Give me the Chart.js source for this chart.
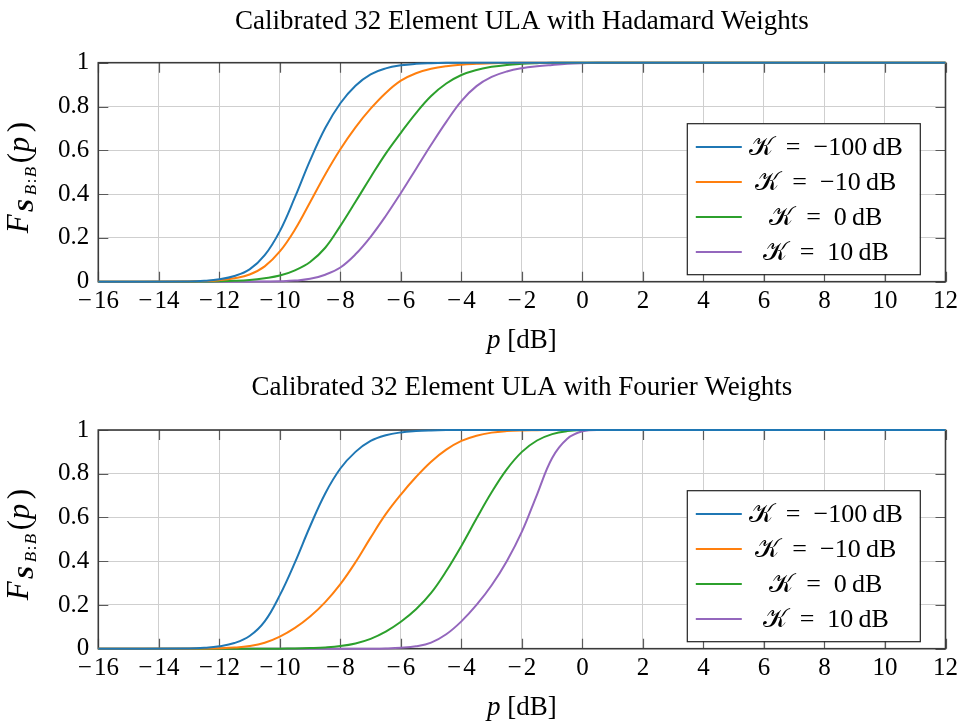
<!DOCTYPE html>
<html><head><meta charset="utf-8">
<script src="https://cdn.jsdelivr.net/npm/chart.js@4.4.0/dist/chart.umd.min.js"></script>
<style>
html,body{margin:0;padding:0;background:#fff;}
#wrap{position:relative;width:963px;height:726px;overflow:hidden;}
.box{position:absolute;left:0;width:963px;height:363px;}
</style></head><body>
<div id="wrap">
<div class="box" style="top:0"><canvas id="c1" width="963" height="363"></canvas></div>
<div class="box" style="top:363px"><canvas id="c2" width="963" height="363"></canvas></div>
</div>
<script>
// ---- data ----
const pGrid = [-16, -13, -12.5, -12, -11.5, -11, -10.5, -10, -9.5, -9, -8.5, -8, -7.5, -7, -6.5, -6, -5.5, -5, -4.5, -4, -3.5, -3, -2.5, -2, -1.5, -1, -0.5, 0, 0.5, 12];
const kLabels = ['𝒦\u2002=\u2002−100\u2009dB', '𝒦\u2002=\u2002−10\u2009dB', '𝒦\u2002=\u20020\u2009dB', '𝒦\u2002=\u200210\u2009dB'];
const xTicks = [-16, -14, -12, -10, -8, -6, -4, -2, 0, 2, 4, 6, 8, 10, 12];
const yTicks = [0, 0.2, 0.4, 0.6, 0.8, 1];
const titles = ['Calibrated 32 Element ULA with Hadamard Weights', 'Calibrated 32 Element ULA with Fourier Weights'];

// Hadamard weights
const hadK100m = [0, 0.001, 0.004, 0.011, 0.026, 0.056, 0.121, 0.231, 0.386, 0.554, 0.702, 0.815, 0.895, 0.947, 0.974, 0.988, 0.995, 0.998, 0.9995, 1, 1, 1, 1, 1, 1, 1, 1, 1, 1, 1];
const hadK10m  = [0, 0.001, 0.003, 0.007, 0.016, 0.033, 0.07, 0.138, 0.238, 0.363, 0.49, 0.605, 0.705, 0.79, 0.862, 0.918, 0.952, 0.972, 0.984, 0.991, 0.995, 0.998, 0.999, 1, 1, 1, 1, 1, 1, 1];
const hadK0    = [0, 0, 0.001, 0.002, 0.004, 0.008, 0.016, 0.028, 0.052, 0.09, 0.155, 0.255, 0.365, 0.477, 0.585, 0.68, 0.77, 0.848, 0.905, 0.944, 0.967, 0.981, 0.99, 0.995, 0.998, 1, 1, 1, 1, 1];
const hadK10   = [0, 0, 0, 0, 0, 0, 0.001, 0.002, 0.005, 0.013, 0.032, 0.065, 0.125, 0.205, 0.30, 0.405, 0.515, 0.625, 0.73, 0.825, 0.893, 0.935, 0.96, 0.975, 0.984, 0.99, 0.995, 0.998, 1, 1];

// Fourier weights
const fouK100m = [0, 0.001, 0.004, 0.011, 0.026, 0.058, 0.125, 0.245, 0.395, 0.56, 0.71, 0.824, 0.90, 0.95, 0.976, 0.989, 0.995, 0.998, 0.9995, 1, 1, 1, 1, 1, 1, 1, 1, 1, 1, 1];
const fouK10m  = [0, 0, 0.001, 0.002, 0.005, 0.012, 0.027, 0.055, 0.095, 0.147, 0.213, 0.295, 0.395, 0.508, 0.615, 0.705, 0.785, 0.855, 0.91, 0.95, 0.974, 0.988, 0.995, 0.998, 0.999, 1, 1, 1, 1, 1];
const fouK0    = [0, 0, 0, 0, 0, 0, 0, 0, 0.001, 0.003, 0.006, 0.012, 0.024, 0.045, 0.078, 0.123, 0.18, 0.255, 0.355, 0.47, 0.595, 0.715, 0.82, 0.90, 0.952, 0.981, 0.995, 1, 1, 1];
const fouK10   = [0, 0, 0, 0, 0, 0, 0, 0, 0, 0, 0, 0, 0, 0, 0.001, 0.004, 0.011, 0.028, 0.066, 0.125, 0.20, 0.29, 0.40, 0.535, 0.705, 0.872, 0.96, 0.994, 1, 1];

const colors = ['#1f77b4', '#ff7f0e', '#2ca02c', '#9467bd'];
const SERIF = '"Liberation Serif", "DejaVu Serif", serif';
const MATHF = '"Liberation Serif", "DejaVu Serif", "DejaVu Sans", "Noto Sans", serif';

// ---- plugins ----
const framePlugin = {
  id: 'frame',
  beforeDatasetsDraw(chart) {
    const ctx = chart.ctx, ca = chart.chartArea;
    const xs = chart.scales.x, ys = chart.scales.y;
    ctx.save();
    ctx.strokeStyle = '#5a5a5a';
    ctx.lineWidth = 1.2;
    const L = 10;
    xs.ticks.forEach(t => {
      const px = Math.round(xs.getPixelForValue(t.value)) + 0.5;
      ctx.beginPath();
      ctx.moveTo(px, ca.bottom); ctx.lineTo(px, ca.bottom - L);
      ctx.moveTo(px, ca.top); ctx.lineTo(px, ca.top + L);
      ctx.stroke();
    });
    ys.ticks.forEach(t => {
      const py = Math.round(ys.getPixelForValue(t.value)) + 0.5;
      ctx.beginPath();
      ctx.moveTo(ca.left, py); ctx.lineTo(ca.left + L, py);
      ctx.moveTo(ca.right, py); ctx.lineTo(ca.right - L, py);
      ctx.stroke();
    });
    ctx.strokeStyle = '#3a3a3a';
    ctx.lineWidth = 1.6;
    ctx.strokeRect(ca.left, ca.top, ca.right - ca.left, ca.bottom - ca.top);
    ctx.restore();
  }
};

const legendPlugin = {
  id: 'boxLegend',
  afterDatasetsDraw(chart) {
    const ctx = chart.ctx, ca = chart.chartArea;
    const w = 233, h = 151;
    const left = ca.right - 25.7 - w, top = ca.bottom - 7.5 - h;
    ctx.save();
    ctx.fillStyle = '#fff';
    ctx.fillRect(left, top, w, h);
    ctx.strokeStyle = '#222';
    ctx.lineWidth = 1.2;
    ctx.strokeRect(left + 0.5, top + 0.5, w, h);
    chart.data.datasets.forEach((ds, i) => {
      const y = top + 23.7 + 35 * i;
      ctx.strokeStyle = ds.borderColor;
      ctx.lineWidth = 2;
      ctx.beginPath();
      ctx.moveTo(left + 9, y); ctx.lineTo(left + 55, y);
      ctx.stroke();
      ctx.fillStyle = '#000';
      ctx.font = '26px ' + MATHF;
      ctx.textAlign = 'center';
      ctx.textBaseline = 'middle';
      ctx.fillText(ds.label, left + 139, y + 1);
    });
    ctx.restore();
  }
};

const axisLabelPlugin = {
  id: 'axisLabels',
  afterDraw(chart) {
    const ctx = chart.ctx, ca = chart.chartArea;
    ctx.save();
    ctx.fillStyle = '#000';
    // x label: p [dB]
    const f1 = 'italic 27px ' + SERIF, f2 = '27px ' + SERIF;
    ctx.font = f1; const wp = ctx.measureText('p').width;
    ctx.font = f2; const wr = ctx.measureText(' [dB]').width;
    let x0 = (ca.left + ca.right) / 2 - (wp + wr) / 2;
    const yb = ca.bottom + 66;
    ctx.textBaseline = 'alphabetic';
    ctx.textAlign = 'left';
    ctx.font = f1; ctx.fillText('p', x0, yb);
    ctx.font = f2; ctx.fillText(' [dB]', x0 + wp, yb);
    // y label: F_{S_{B:B}}(p), read bottom to top
    const parts = [
      {t: 'F', f: 'italic 31px ' + SERIF, at: 0, base: 28},
      {t: 'S', f: 'italic bold 24px ' + SERIF, at: 21, base: 33},
      {t: 'B', f: 'italic 17px ' + SERIF, at: 38, base: 36},
      {t: ':', f: '17px ' + SERIF, at: 50, base: 36},
      {t: 'B', f: 'italic 17px ' + SERIF, at: 56, base: 36},
      {t: '(', f: '31px ' + SERIF, at: 70, base: 29},
      {t: 'p', f: 'italic 31px ' + SERIF, at: 81, base: 29},
      {t: ')', f: '31px ' + SERIF, at: 101, base: 29}
    ];
    ctx.translate(0, (ca.top + ca.bottom) / 2);
    ctx.rotate(-Math.PI / 2);
    const start = -61;
    parts.forEach(p => {
      ctx.font = p.f;
      ctx.fillText(p.t, start + p.at, p.base);
    });
    ctx.restore();
  }
};

function fmtX(v) { return v < 0 ? '\u2212\u200a' + Math.abs(v) : String(v); }
function fmtY(v) { return String(Math.round(v * 10) / 10); }

function makeChart(id, title, series, titlePad, axisH) {
  return new Chart(document.getElementById(id), {
    type: 'line',
    data: {
      datasets: series.map((vals, i) => ({
        label: kLabels[i],
        data: pGrid.map((p, j) => ({x: p, y: vals[j]})),
        borderColor: colors[i],
        backgroundColor: colors[i],
        borderWidth: 2,
        pointRadius: 0,
        fill: false,
        tension: 0.4,
        clip: 6
      }))
    },
    options: {
      responsive: false,
      animation: false,
      devicePixelRatio: 1,
      layout: {padding: {left: 0, right: 16.3, top: 0, bottom: 0}},
      plugins: {
        legend: {display: false},
        tooltip: {enabled: false},
        title: {
          display: true, text: title, color: '#000', fullSize: false,
          font: {family: SERIF, size: 27, weight: 'normal'},
          padding: titlePad
        }
      },
      scales: {
        x: {
          type: 'linear', min: -16, max: 12,
          afterBuildTicks: s => { s.ticks = xTicks.map(v => ({value: v})); },
          afterFit: s => { s.height = axisH; },
          ticks: {color: '#000', font: {family: SERIF, size: 25}, padding: 5, maxRotation: 0, autoSkip: false,
                  callback: v => fmtX(v)},
          grid: {color: '#cfcfcf', lineWidth: 1, drawTicks: false},
          border: {display: false}
        },
        y: {
          type: 'linear', min: 0, max: 1,
          afterBuildTicks: s => { s.ticks = yTicks.map(v => ({value: v})); },
          afterFit: s => { s.width = 98.3; },
          ticks: {color: '#000', font: {family: SERIF, size: 25}, padding: 9, autoSkip: false,
                  callback: v => fmtY(v)},
          grid: {color: '#cfcfcf', lineWidth: 1, drawTicks: false},
          border: {display: false}
        }
      }
    },
    plugins: [framePlugin, legendPlugin, axisLabelPlugin]
  });
}

makeChart('c1', titles[0], [hadK100m, hadK10m, hadK0, hadK10], {top: 6, bottom: 24.3}, 81.3);
makeChart('c2', titles[1], [fouK100m, fouK10m, fouK0, fouK10], {top: 8.8, bottom: 25.8}, 77.3);
</script>
</body></html>
